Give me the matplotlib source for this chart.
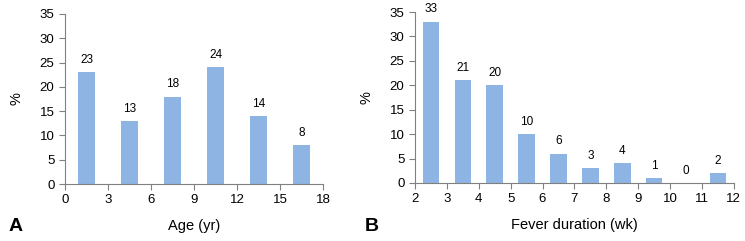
import matplotlib
matplotlib.use('Agg')
import matplotlib.pyplot as plt

# Dados
idade_centros = [1.5, 4.5, 7.5, 10.5, 13.5, 16.5]
idade_pct = [23, 13, 18, 24, 14, 8]
idade_ticks = [0, 3, 6, 9, 12, 15, 18]

febre_centros = [2.5, 3.5, 4.5, 5.5, 6.5, 7.5, 8.5, 9.5, 10.5, 11.5]
febre_pct = [33, 21, 20, 10, 6, 3, 4, 1, 0, 2]
febre_ticks = list(range(2, 13))

y_ticks = [0, 5, 10, 15, 20, 25, 30, 35]

plt.rcParams['font.family'] = ['Liberation Sans Narrow', 'Liberation Sans', 'DejaVu Sans']

cor_barra = '#8db4e2'
cor_eixo = '#808080'

fig = plt.figure(figsize=(7.45, 2.41), dpi=100)
ax_a = fig.add_axes([0.0872, 0.2365, 0.3464, 0.7055])
ax_b = fig.add_axes([0.557, 0.2407, 0.428, 0.7093])


def desenhar(ax, centros, valores, largura, xticks, xlabel):
    barras = ax.bar(centros, valores, width=largura, color=cor_barra, edgecolor='none')
    for b, v in zip(barras, valores):
        ax.text(b.get_x() + b.get_width() / 2, v + 1.3, str(v),
                ha='center', va='bottom', fontsize=8.5)
    ax.set_xlim(xticks[0], xticks[-1])
    ax.set_ylim(0, 35)
    ax.set_xticks(xticks)
    ax.set_yticks(y_ticks)
    ax.spines['top'].set_visible(False)
    ax.spines['right'].set_visible(False)
    for s in ['left', 'bottom']:
        ax.spines[s].set_color(cor_eixo)
        ax.spines[s].set_linewidth(0.8)
    ax.tick_params(axis='both', colors=cor_eixo, labelcolor='black',
                   labelsize=9.5, length=4, width=0.8)
    ax.set_xlabel(xlabel, fontsize=10.5, labelpad=9)
    ax.set_ylabel('%', fontsize=10.5, labelpad=12)


desenhar(ax_a, idade_centros, idade_pct, 1.2, idade_ticks, 'Age (yr)')
desenhar(ax_b, febre_centros, febre_pct, 0.52, febre_ticks, 'Fever duration (wk)')

fig.text(0.011, 0.04, 'A', fontsize=14, fontweight='bold')
fig.text(0.489, 0.04, 'B', fontsize=14, fontweight='bold')

fig.savefig('out.png', dpi=100)
